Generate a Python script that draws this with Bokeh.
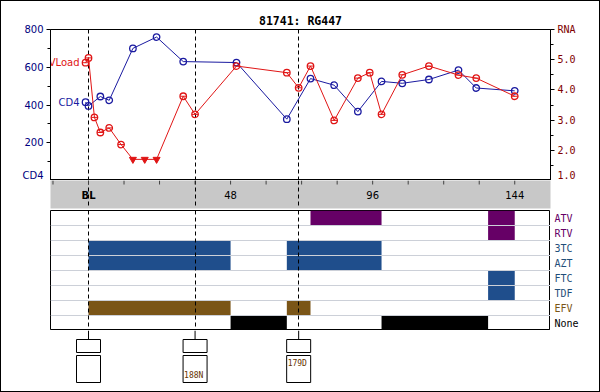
from bokeh.plotting import figure
from bokeh.models import Range1d, LinearAxis, FixedTicker, ColumnDataSource, PrintfTickFormatter, InlineStyleSheet
from bokeh.layouts import column, row
from bokeh.embed import file_html
from bokeh.resources import INLINE
from bokeh.core.properties import value

# ---------------- data ----------------
title_text = "81741: RG447"

cd4_weeks = [-1, 0, 4, 7, 15, 23, 32, 50, 67, 75, 83, 91, 99, 106, 115, 125, 131, 144]
cd4_values = [415, 395, 445, 425, 700, 760, 630, 625, 325, 540, 505, 365, 525, 515, 535, 585, 490, 475]

vl_weeks = [-1, 0, 2, 4, 7, 11, 15, 19, 23, 32, 36, 50, 67, 71, 75, 83, 91, 95, 99, 106, 115, 125, 131, 144]
vl_values = [4.90, 5.06, 3.09, 2.59, 2.74, 2.19, 1.70, 1.70, 1.70, 3.79, 3.19, 4.79, 4.57, 4.07, 4.79,
             2.99, 4.39, 4.57, 3.19, 4.50, 4.79, 4.49, 4.39, 3.79]
vl_below_limit = [False, False, False, False, False, False, True, True, True, False, False, False, False,
                  False, False, False, False, False, False, False, False, False, False, False]

cd4_ticks = [0, 200, 400, 600, 800]
cd4_minor_ticks = [100, 300, 500, 700]
rna_ticks = [1, 2, 3, 4, 5, 6]
rna_minor_ticks = [1.5, 2.5, 3.5, 4.5, 5.5]

week_ticks = [-12, 0, 12, 24, 36, 48, 60, 72, 84, 96, 108, 120, 132, 144]
week_label_pos = [0, 48, 96, 144]
week_labels = ["BL", "48", "96", "144"]

drugs = ["ATV", "RTV", "3TC", "AZT", "FTC", "TDF", "EFV", "None"]
drug_bar_colors = ["#660066", "#660066", "#1f4e8c", "#1f4e8c", "#1f4e8c", "#1f4e8c", "#7a5517", "#000000"]
drug_label_colors = ["#660066", "#660066", "#1f4e79", "#1f4e79", "#1f4e79", "#1f4e79", "#7a5517", "#000000"]

bar_drug = ["ATV", "ATV", "RTV", "3TC", "3TC", "AZT", "AZT", "FTC", "TDF", "EFV", "EFV", "None", "None"]
bar_start = [75, 135, 135, 0, 67, 0, 67, 135, 135, 0, 67, 48, 99]
bar_end = [99, 144, 144, 48, 99, 48, 99, 144, 144, 48, 75, 67, 135]

event_weeks = [0, 36, 71]
mutation_weeks = [36, 71]
mutation_text = ["188N", "179D"]
mutation_row = [1, 0]

# ---------------- style ----------------
BLUE = "#1a1aa0"
RED = "#e01515"
NAVY = "#000080"
MAROON = "#800000"
SANS = "DejaVu Sans"
MONO = "DejaVu Sans Mono"

xr = Range1d(-12.84, 156.08)
common = dict(frame_width=500, x_range=xr, output_backend="svg", toolbar_location=None,
              min_border_left=50, min_border_right=50)

# ---------------- top chart ----------------
p1 = figure(frame_height=151, y_range=Range1d(0, 800), x_axis_location=None,
            min_border_top=29, min_border_bottom=0, title=title_text, **common)
p1.title.align = "center"
p1.title.text_font = MONO
p1.title.text_font_size = "11.5px"
p1.title.text_font_style = "bold"
p1.title.text_color = "black"
p1.title.standoff = 3
p1.grid.visible = False
p1.outline_line_color = "black"

yax = p1.yaxis[0]
yax.ticker = FixedTicker(ticks=cd4_ticks, minor_ticks=cd4_minor_ticks)
yax.major_label_overrides = {0: "CD4"}
yax.major_label_text_color = NAVY
yax.major_label_text_font = SANS
yax.major_label_text_font_size = "10px"
yax.major_label_standoff = 3
yax.major_tick_in = 0
yax.major_tick_out = 4
yax.minor_tick_in = 0
yax.minor_tick_out = 3
yax.axis_line_color = "black"
yax.major_tick_line_color = "black"
yax.minor_tick_line_color = "black"

p1.extra_y_ranges = {"rna": Range1d(1, 6)}
rax = LinearAxis(y_range_name="rna", ticker=FixedTicker(ticks=rna_ticks, minor_ticks=rna_minor_ticks),
                 formatter=PrintfTickFormatter(format="%.1f"), major_label_overrides={6: "RNA"})
rax.major_label_text_color = MAROON
rax.major_label_text_font = MONO
rax.major_label_text_font_size = "10px"
rax.major_label_standoff = 3
rax.major_tick_in = 0
rax.major_tick_out = 4
rax.minor_tick_in = 0
rax.minor_tick_out = 3
p1.add_layout(rax, "right")

p1.vspan(x=event_weeks, line_color="black", line_dash="4 3", line_width=1)

p1.line(cd4_weeks, cd4_values, line_color=BLUE, line_width=1)
p1.scatter(cd4_weeks, cd4_values, marker="circle", size=6.5, fill_color=None, line_color=BLUE, line_width=1.3)

vl_det_w = [w for w, b in zip(vl_weeks, vl_below_limit) if not b]
vl_det_v = [v for v, b in zip(vl_values, vl_below_limit) if not b]
vl_low_w = [w for w, b in zip(vl_weeks, vl_below_limit) if b]
vl_low_v = [v for v, b in zip(vl_values, vl_below_limit) if b]
p1.line(vl_weeks, vl_values, y_range_name="rna", line_color=RED, line_width=1)
p1.scatter(vl_det_w, vl_det_v, y_range_name="rna", marker="circle", size=6.5, fill_color=None,
           line_color=RED, line_width=1.3)
p1.scatter(vl_det_w, vl_det_v, y_range_name="rna", marker="dash", size=6, line_color=RED, line_width=1)
p1.scatter(vl_low_w, vl_low_v, y_range_name="rna", marker="inverted_triangle", size=7,
           fill_color=RED, line_color=RED)

p1.text(x=[cd4_weeks[0]], y=[cd4_values[0]], text=["CD4"], text_align="right", text_baseline="middle",
        x_offset=-6, text_color=BLUE, text_font=value(SANS), text_font_size="10px")
p1.text(x=[vl_weeks[0]], y=[vl_values[0]], text=["VLoad"], y_range_name="rna", text_align="right",
        text_baseline="middle", x_offset=-6, text_color=RED, text_font=value(SANS), text_font_size="10px")

# ---------------- grey week band ----------------
p2 = figure(frame_height=28, y_range=Range1d(0, 28), x_axis_location=None, y_axis_location=None,
            min_border_top=0, min_border_bottom=2, background_fill_color="#c8c8c8",
            outline_line_color=None, **common)
p2.grid.visible = False
p2.vspan(x=event_weeks, line_color="black", line_dash="4 3", line_width=1)
p2.segment(x0=week_ticks, y0=28, x1=week_ticks, y1=24, line_color="#404040", line_width=1)
p2.text(x=week_label_pos[1:], y=13.5, text=week_labels[1:], text_align="center", text_baseline="middle",
        text_color="black", text_font=value(SANS), text_font_size="10px")
p2.text(x=week_label_pos[:1], y=13.5, text=week_labels[:1], text_align="center", text_baseline="middle",
        text_color="black", text_font=value(SANS), text_font_size="10px", text_font_style="bold")

# ---------------- treatment panel ----------------
n = len(drugs)
trow = Range1d(n, 0)
p3 = figure(frame_width=500, frame_height=120, x_range=xr, y_range=trow, x_axis_location=None,
            y_axis_location=None, output_backend="svg", toolbar_location=None,
            min_border_left=50, min_border_right=0, min_border_top=0, min_border_bottom=0,
            outline_line_color="black")
p3.grid.visible = False
rows = [drugs.index(d) for d in bar_drug]
bar_src = ColumnDataSource(dict(left=bar_start, right=bar_end, top=rows, bottom=[r + 1 for r in rows],
                                color=[drug_bar_colors[r] for r in rows]))
p3.quad(left="left", right="right", top="top", bottom="bottom", fill_color="color", line_color=None,
        source=bar_src)
p3.hspan(y=list(range(1, n)), line_color="#ccd0d8", line_width=1)
p3.vspan(x=event_weeks, line_color="black", line_dash="4 3", line_width=1)
p3.hspan(y=[n], line_color="black", line_width=2)

# drug names, drawn in a narrow companion frame to the right of the panel
p3l = figure(frame_width=50, frame_height=120, x_range=Range1d(0, 50), y_range=trow,
             x_axis_location=None, y_axis_location=None, output_backend="svg", toolbar_location=None,
             min_border_left=0, min_border_right=0, min_border_top=0, min_border_bottom=0,
             outline_line_color=None)
p3l.grid.visible = False
lab_src = ColumnDataSource(dict(x=[4] * n, y=[i + 0.5 for i in range(n)], text=drugs,
                                color=drug_label_colors))
p3l.text(x="x", y="y", text="text", source=lab_src, text_color="color",
         text_baseline="middle", text_align="left", text_font=value(MONO), text_font_size="10px")

# ---------------- mutation boxes ----------------
p4 = figure(frame_height=62, y_range=Range1d(62, 0), x_axis_location=None, y_axis_location=None,
            min_border_top=0, min_border_bottom=0, outline_line_color=None, **common)
p4.grid.visible = False
p4.segment(x0=event_weeks, y0=0, x1=event_weeks, y1=9, line_color="black", line_width=1)
p4.rect(x=event_weeks, y=15.5, width=24, width_units="screen", height=13, fill_color="white",
        line_color="black", line_width=1)
p4.rect(x=event_weeks, y=38.5, width=24, width_units="screen", height=27, fill_color="white",
        line_color="black", line_width=1)
p4.text(x=mutation_weeks, y=[33 + 11.5 * r for r in mutation_row], text=mutation_text, x_offset=-11,
        text_align="left", text_baseline="middle", text_color="#663300", text_font=value(MONO),
        text_font_size="8px")

border_css = InlineStyleSheet(css=(
    ":host { position: relative; }"
    ":host::after { content: ''; position: absolute; left: 0; top: 0; right: 0; bottom: 0;"
    " border: 1px solid black; pointer-events: none; z-index: 100; }"))
layout = column(p1, p2, row(p3, p3l), p4, stylesheets=[border_css])

open("out.html", "w").write(file_html(layout, INLINE))
